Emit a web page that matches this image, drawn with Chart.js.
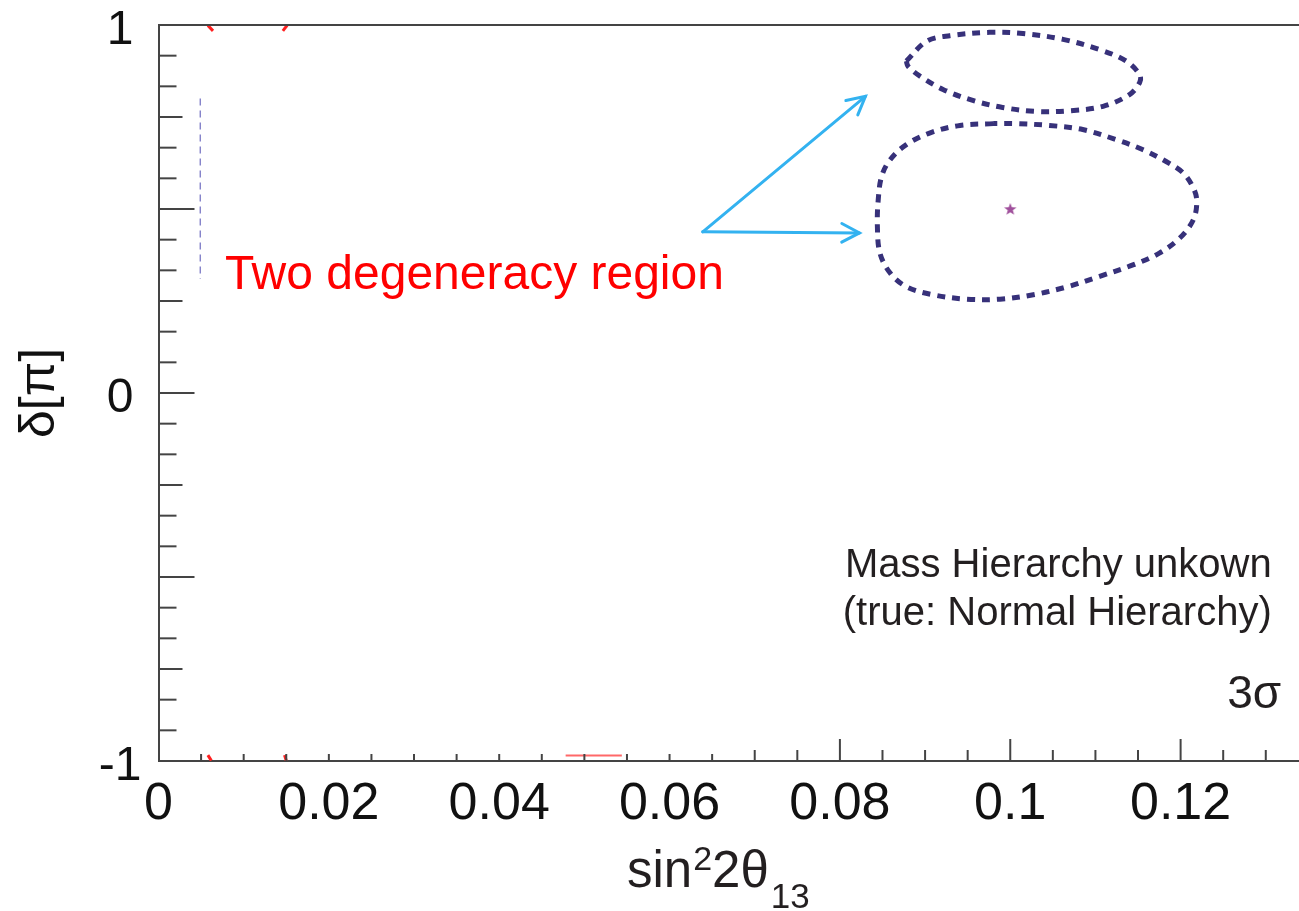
<!DOCTYPE html>
<html>
<head>
<meta charset="utf-8">
<script src="https://cdn.jsdelivr.net/npm/chart.js@4.4.1/dist/chart.umd.min.js"></script>
<style>
html,body{margin:0;padding:0;background:#fff;overflow:hidden}
#wrap{width:1299px;height:911px;position:relative}
</style>
</head>
<body>
<div id="wrap"><canvas id="c" width="1299" height="911"></canvas></div>
<script>
// ---- data ----
const xTickLabels = [0, 0.02, 0.04, 0.06, 0.08, 0.1, 0.12];
const yTickLabels = [-1, 0, 1];

// upper 3-sigma island (dotted contour)
const upperX = [0.0878,0.0902,0.0929,0.0976,0.1015,0.1062,0.1105,0.1136,0.1152,0.1152,0.1140,0.1109,0.1070,0.1031,0.0991,0.0956,0.0921,0.0894,0.0880,0.0878];
const upperY = [0.902,0.956,0.971,0.980,0.977,0.961,0.933,0.902,0.865,0.844,0.811,0.779,0.767,0.765,0.776,0.795,0.825,0.861,0.888,0.902];

// lower 3-sigma island around the true point
const lowerX = [0.0980,0.0941,0.0906,0.0878,0.0859,0.0849,0.0845,0.0844,0.0847,0.0859,0.0878,0.0909,0.0949,0.0988,0.1027,0.1066,0.1105,0.1144,0.1175,0.1199,0.1215,0.1219,0.1215,0.1203,0.1183,0.1156,0.1125,0.1085,0.1046,0.1007,0.0980];
const lowerY = [0.732,0.727,0.707,0.675,0.634,0.589,0.525,0.453,0.380,0.326,0.289,0.267,0.255,0.255,0.267,0.288,0.317,0.348,0.380,0.421,0.471,0.521,0.557,0.598,0.629,0.661,0.688,0.716,0.727,0.732,0.732];

// true point
const trueX = [0.1];
const trueY = [0.5];

// small red contour fragments at the edges
const redAX = [0.0058, 0.0064]; const redAY = [0.999, 0.984];
const redBX = [0.0151, 0.0146]; const redBY = [0.999, 0.984];
const redCX = [0.0058, 0.0062]; const redCY = [-0.984, -0.999];
const redDX = [0.0148, 0.0150]; const redDY = [-0.984, -0.999];
const redEX = [0.0478, 0.0544]; const redEY = [-0.985, -0.985];

// faint thin dashed line near the left edge
const thinX = [0.0049, 0.0049]; const thinY = [0.80, 0.31];

// arrows (data coordinates)
const arrowFrom = [0.0639, 0.438];
const arrowTips = [[0.0830, 0.806], [0.0823, 0.435]];

const FONT = "'Liberation Sans', Arial, Helvetica, sans-serif";

function pts(xs, ys){ return xs.map((x,i)=>({x:x, y:ys[i]})); }
function zeroPad(s){ s.paddingLeft = 0; s.paddingRight = 0; s.paddingTop = 0; s.paddingBottom = 0; }

// star point image
const star = document.createElement('canvas');
star.width = 14; star.height = 14;
(function(){
  const g = star.getContext('2d');
  g.fillStyle = '#a0509c';
  g.beginPath();
  for (let i=0;i<10;i++){
    const r = i%2===0 ? 6.5 : 2.7;
    const a = -Math.PI/2 + i*Math.PI/5;
    const px = 7 + r*Math.cos(a), py = 7.5 + r*Math.sin(a);
    if (i===0) g.moveTo(px,py); else g.lineTo(px,py);
  }
  g.closePath(); g.fill();
})();

const contourStyle = {
  showLine: true, pointRadius: 0, borderColor: '#37317a', borderWidth: 5,
  borderDash: [8, 7], borderCapStyle: 'butt', tension: 0.35, fill: false
};
const redStyle = { showLine: true, pointRadius: 0, borderColor: '#ff2020', borderWidth: 3, fill:false };

const decor = {
  id: 'decor',
  afterDatasetsDraw(chart){
    const {ctx, chartArea: ca, scales: {x, y}} = chart;
    ctx.save();
    // top frame line
    ctx.strokeStyle = '#444'; ctx.lineWidth = 2;
    ctx.beginPath(); ctx.moveTo(ca.left, ca.top); ctx.lineTo(ca.right, ca.top); ctx.stroke();
    // inward y ticks (every pi/12)
    for (let i=-11;i<=11;i++){
      const len = i%6===0 ? 36 : (i%3===0 ? 24 : 18);
      const py = y.getPixelForValue(i/12);
      ctx.beginPath(); ctx.moveTo(ca.left, py); ctx.lineTo(ca.left+len, py); ctx.stroke();
    }
    // inward x ticks (every 0.005)
    for (let k=1;k<=26;k++){
      const v = k*0.005;
      const len = (k%4===0 && v>=0.079) ? 22 : (v>=0.069 ? 11 : 7);
      const px = x.getPixelForValue(v);
      ctx.beginPath(); ctx.moveTo(px, ca.bottom); ctx.lineTo(px, ca.bottom-len); ctx.stroke();
    }
    // arrows
    ctx.strokeStyle = '#33b2f0'; ctx.lineWidth = 3; ctx.lineCap = 'round';
    const fx = x.getPixelForValue(arrowFrom[0]), fy = y.getPixelForValue(arrowFrom[1]);
    arrowTips.forEach(t => {
      const tx = x.getPixelForValue(t[0]), ty = y.getPixelForValue(t[1]);
      ctx.beginPath(); ctx.moveTo(fx, fy); ctx.lineTo(tx, ty); ctx.stroke();
      const ang = Math.atan2(ty-fy, tx-fx);
      const hl = 20, ha = Math.PI/6.5;
      ctx.beginPath();
      ctx.moveTo(tx - hl*Math.cos(ang-ha), ty - hl*Math.sin(ang-ha));
      ctx.lineTo(tx, ty);
      ctx.lineTo(tx - hl*Math.cos(ang+ha), ty - hl*Math.sin(ang+ha));
      ctx.stroke();
    });
    // red annotation
    ctx.fillStyle = '#ff0000';
    ctx.font = '48px ' + FONT;
    ctx.textAlign = 'left'; ctx.textBaseline = 'alphabetic';
    ctx.fillText('Two degeneracy region', x.getPixelForValue(0.0078), y.getPixelForValue(0.283));
    // legend-like text
    ctx.fillStyle = '#231f20';
    ctx.textAlign = 'right';
    ctx.font = '40px ' + FONT;
    ctx.fillText('Mass Hierarchy unkown', x.getPixelForValue(0.1307), y.getPixelForValue(-0.5007));
    ctx.fillText('(true: Normal Hierarchy)', x.getPixelForValue(0.1307), y.getPixelForValue(-0.631));
    ctx.font = '46px ' + FONT;
    ctx.fillText('3\u03c3', x.getPixelForValue(0.1318), y.getPixelForValue(-0.857));
    // x-axis title sin^2 2theta_13
    ctx.fillStyle = '#231f20';
    ctx.textAlign = 'left';
    const base = 887;
    let cx = 627;
    const parts = [
      ['sin', 51, 0, 0], ['2', 34, -17, 1], ['2\u03b8', 51, 0, 0], ['13', 35, 21, 2]
    ];
    parts.forEach(p => {
      ctx.font = p[1] + 'px ' + FONT;
      cx += p[3];
      ctx.fillText(p[0], cx, base + p[2]);
      cx += ctx.measureText(p[0]).width;
    });
    ctx.restore();
  }
};

new Chart(document.getElementById('c'), {
  type: 'scatter',
  data: {
    datasets: [
      Object.assign({ data: pts(upperX, upperY) }, contourStyle),
      Object.assign({ data: pts(lowerX, lowerY) }, contourStyle),
      Object.assign({ data: pts(redAX, redAY) }, redStyle),
      Object.assign({ data: pts(redBX, redBY) }, redStyle),
      Object.assign({ data: pts(redCX, redCY) }, redStyle),
      Object.assign({ data: pts(redDX, redDY) }, redStyle),
      Object.assign({ data: pts(redEX, redEY) }, redStyle, {borderWidth: 2, borderColor: 'rgba(255,40,40,0.7)'}),
      { data: pts(thinX, thinY), showLine: true, pointRadius: 0, borderColor: '#6f6cc0', borderWidth: 1.2, borderDash: [7, 5] },
      { data: pts(trueX, trueY), pointStyle: star, pointRadius: 7, showLine: false }
    ]
  },
  options: {
    responsive: false,
    animation: false,
    devicePixelRatio: 1,
    layout: { autoPadding: false, padding: { left: 0, right: 0, top: 25, bottom: 0 } },
    plugins: { legend: { display: false }, tooltip: { enabled: false } },
    scales: {
      x: {
        type: 'linear', min: 0, max: 0.1339,
        afterBuildTicks: s => { s.ticks = xTickLabels.map(v => ({ value: v })); },
        afterFit: s => { s.height = 150; zeroPad(s); },
        grid: { display: false, drawTicks: false },
        border: { display: true, color: '#444', width: 2 },
        ticks: { color: '#111', padding: 12, maxRotation: 0, autoSkip: false,
                 font: { family: FONT, size: 52 }, callback: v => String(v) }
      },
      y: {
        type: 'linear', min: -1, max: 1,
        afterBuildTicks: s => { s.ticks = yTickLabels.map(v => ({ value: v })); },
        afterFit: s => { s.width = 158.5; zeroPad(s); },
        grid: { display: false, drawTicks: false },
        border: { display: true, color: '#444', width: 2 },
        ticks: { color: '#111', padding: 17, crossAlign: 'center', labelOffset: 6,
                 font: { family: FONT, size: 48 }, callback: v => String(v) },
        title: { display: true, text: '\u03b4[\u03c0]', color: '#111',
                 font: { family: FONT, size: 50 }, padding: { top: 10, bottom: 0 } }
      }
    }
  },
  plugins: [decor]
});
</script>
</body>
</html>
